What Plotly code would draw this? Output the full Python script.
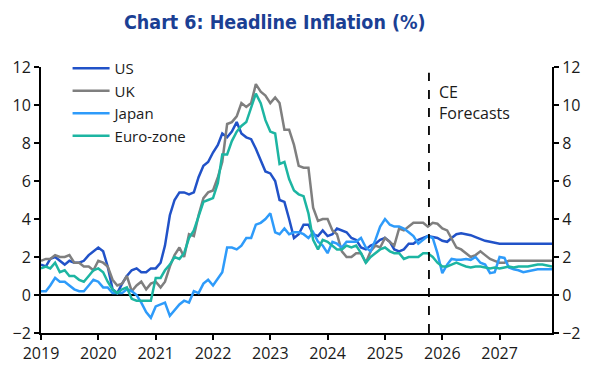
import pandas as pd
import plotly.graph_objects as go

# Monthly observations Jan 2019 - Dec 2027 (forecasts from Oct 2025)
months = pd.date_range("2019-01-01", periods=108, freq="MS")
forecast_start = "2025-10-08"
forecast_label = "CE<br>Forecasts"

us = [1.6, 1.5, 1.9, 2.0, 1.8, 1.6, 1.8, 1.7, 1.7, 1.8, 2.1, 2.3,
      2.5, 2.3, 1.5, 0.3, 0.1, 0.6, 1.0, 1.3, 1.4, 1.2, 1.2, 1.4,
      1.4, 1.7, 2.6, 4.2, 5.0, 5.4, 5.4, 5.3, 5.4, 6.2, 6.8, 7.0,
      7.5, 7.9, 8.5, 8.3, 8.6, 9.1, 8.5, 8.3, 8.2, 7.7, 7.1, 6.5,
      6.4, 6.0, 5.0, 4.9, 4.0, 3.0, 3.2, 3.7, 3.7, 3.2, 3.1, 3.4,
      3.1, 3.2, 3.5, 3.4, 3.3, 3.0, 2.9, 2.5, 2.4, 2.6, 2.7, 2.9,
      3.0, 2.8, 2.4, 2.3, 2.4, 2.7, 2.7, 2.9, 3.0, 3.1, 3.05, 3.0,
      2.85, 2.8, 3.0, 3.2, 3.25, 3.2, 3.15, 3.05, 2.95, 2.85, 2.8, 2.75,
      2.7, 2.7, 2.7, 2.7, 2.7, 2.7, 2.7, 2.7, 2.7, 2.7, 2.7, 2.7]

uk = [1.8, 1.9, 1.9, 2.1, 2.0, 2.0, 2.1, 1.7, 1.7, 1.5, 1.5, 1.3,
      1.8, 1.7, 1.5, 0.8, 0.5, 0.6, 1.0, 0.2, 0.5, 0.7, 0.3, 0.6,
      0.7, 0.4, 0.7, 1.5, 2.1, 2.5, 2.0, 3.2, 3.1, 4.2, 5.1, 5.4,
      5.5, 6.2, 7.0, 9.0, 9.1, 9.4, 10.1, 9.9, 10.1, 11.1, 10.7, 10.5,
      10.1, 10.4, 10.1, 8.7, 8.7, 7.9, 6.8, 6.7, 6.7, 4.6, 3.9, 4.0,
      4.0, 3.4, 3.2, 2.3, 2.0, 2.0, 2.2, 2.2, 1.7, 2.3, 2.6, 2.5,
      3.0, 2.8, 2.6, 3.5, 3.4, 3.6, 3.8, 3.8, 3.8, 3.6, 3.8, 3.75,
      3.5, 3.4, 3.0, 2.5, 2.4, 2.2, 2.0, 2.1, 2.3, 2.1, 1.9, 1.8,
      1.7, 1.7, 1.8, 1.8, 1.8, 1.8, 1.8, 1.8, 1.8, 1.8, 1.8, 1.8]

japan = [0.2, 0.2, 0.5, 0.9, 0.7, 0.7, 0.5, 0.3, 0.2, 0.2, 0.5, 0.8,
         0.7, 0.4, 0.4, 0.1, 0.1, 0.1, 0.3, 0.2, 0.0, -0.4, -0.9, -1.2,
         -0.6, -0.5, -0.4, -1.1, -0.8, -0.5, -0.3, -0.4, 0.2, 0.1, 0.6, 0.8,
         0.5, 0.9, 1.2, 2.5, 2.5, 2.4, 2.6, 3.0, 3.0, 3.7, 3.8, 4.0,
         4.3, 3.3, 3.2, 3.5, 3.2, 3.3, 3.3, 3.2, 3.0, 3.3, 2.8, 2.6,
         2.2, 2.8, 2.7, 2.5, 2.8, 2.8, 2.8, 3.0, 2.5, 2.3, 2.9, 3.6,
         4.0, 3.7, 3.6, 3.6, 3.5, 3.3, 3.1, 2.7, 2.9, 3.1, 3.0, 2.2,
         1.15, 1.6, 1.9, 1.85, 1.85, 1.9, 1.85, 2.0, 1.7, 1.6, 1.15, 1.2,
         2.0, 1.95, 1.45, 1.35, 1.3, 1.2, 1.25, 1.3, 1.35, 1.35, 1.35, 1.35]

euro = [1.4, 1.5, 1.4, 1.7, 1.2, 1.3, 1.0, 1.0, 0.8, 0.7, 1.0, 1.3,
        1.4, 1.2, 0.7, 0.3, 0.1, 0.3, 0.4, -0.2, -0.3, -0.3, -0.3, -0.3,
        0.9, 0.9, 1.3, 1.6, 2.0, 1.9, 2.2, 3.0, 3.4, 4.1, 4.9, 5.0,
        5.1, 5.9, 7.4, 7.4, 8.1, 8.6, 8.9, 9.1, 9.9, 10.6, 10.1, 9.2,
        8.6, 8.5, 6.9, 7.0, 6.1, 5.5, 5.3, 5.2, 4.3, 2.9, 2.4, 2.9,
        2.8, 2.6, 2.4, 2.4, 2.6, 2.5, 2.6, 2.2, 1.7, 2.0, 2.2, 2.4,
        2.5, 2.3, 2.2, 2.2, 1.9, 2.0, 2.0, 2.0, 2.2, 2.2, 2.0, 1.7,
        1.5, 1.5, 1.6, 1.7, 1.6, 1.5, 1.45, 1.5, 1.5, 1.45, 1.4, 1.45,
        1.4, 1.45, 1.5, 1.45, 1.5, 1.5, 1.5, 1.55, 1.6, 1.6, 1.55, 1.5]

series = [("US", us, "#2152C8"), ("UK", uk, "#7F7F7F"),
          ("Japan", japan, "#2E9BFA"), ("Euro-zone", euro, "#1DB5A2")]

y_ticks = [-2, 0, 2, 4, 6, 8, 10, 12]

FONT = "Open Sans"
TXT = "#1a1a1a"

fig = go.Figure()
for name, vals, col in series:
    fig.add_trace(go.Scatter(x=months, y=vals, name=name, mode="lines",
                             line=dict(color=col, width=2.5)))
# invisible trace so the right axis exists
fig.add_trace(go.Scatter(x=[months[0]], y=[None], yaxis="y2", showlegend=False,
                         hoverinfo="skip", mode="lines"))

fig.add_shape(type="line", xref="x", yref="y", x0=forecast_start, x1=forecast_start,
              y0=-2, y1=11.7, line=dict(color="black", width=1.8, dash="dash"))
fig.add_annotation(x=forecast_start, y=10.13, xref="x", yref="y", text=forecast_label,
                   showarrow=False, xanchor="left", yanchor="middle", align="left",
                   xshift=8, font=dict(family=FONT, size=16, color=TXT))

axis_common = dict(showline=True, linecolor="black", linewidth=2, ticks="outside",
                   ticklen=5, tickwidth=2, tickcolor="black", showgrid=False,
                   tickfont=dict(family=FONT, size=16, color=TXT))

fig.update_layout(
    width=600, height=372,
    margin=dict(l=41, r=48, t=67, b=39, autoexpand=False),
    paper_bgcolor="white", plot_bgcolor="white",
    title=dict(text="<b>Chart 6: Headline Inflation (%)</b>", xref="container",
               x=0.458, xanchor="center", yref="container", y=0.94, yanchor="middle",
               font=dict(family="Liberation Sans Narrow, DejaVu Sans Condensed, Roboto",
                         size=19.5, color="#1B3F94")),
    xaxis=dict(type="date", range=[months[0], months[-1]], tickformat="%Y",
               dtick="M12", tick0=months[0], zeroline=False, **axis_common),
    yaxis=dict(range=[-2, 12], tickvals=y_ticks, zeroline=True, zerolinecolor="black",
               zerolinewidth=1.6, **axis_common),
    yaxis2=dict(range=[-2, 12], tickvals=y_ticks, overlaying="y", side="right",
                zeroline=False, **axis_common),
    legend=dict(x=0.052, y=1.056, xanchor="left", yanchor="top", bgcolor="rgba(0,0,0,0)",
                font=dict(family=FONT, size=15, color=TXT), itemwidth=37,
                tracegroupgap=0),
    showlegend=True,
)

fig.write_html("out.html", config={"displayModeBar": False},
               post_script="document.body.style.margin='0px';")
